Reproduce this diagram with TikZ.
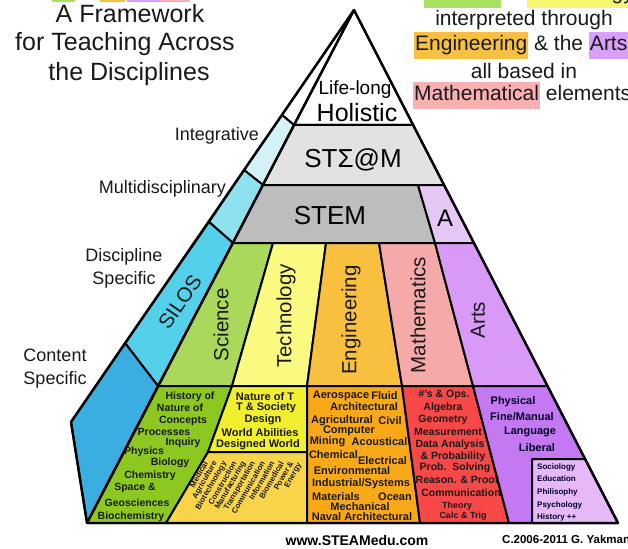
\documentclass[tikz,border=0pt]{standalone}
\usepackage{fontspec}
\setmainfont{Liberation Sans}
\definecolor{intcol}{HTML}{D4F1F7}
\definecolor{multcol}{HTML}{8EE2F0}
\definecolor{siloscol}{HTML}{55D0EA}
\definecolor{contcol}{HTML}{3AAEE0}
\definecolor{steamcol}{HTML}{E2E2E2}
\definecolor{stemcol}{HTML}{BDBDBD}
\definecolor{acol}{HTML}{E6C8F6}
\definecolor{scicol}{HTML}{A9D85A}
\definecolor{techcol}{HTML}{FAFA80}
\definecolor{engcol}{HTML}{F9C040}
\definecolor{mathcol}{HTML}{F5A9A9}
\definecolor{artscol}{HTML}{D99AF7}
\definecolor{greenblk}{HTML}{8CC820}
\definecolor{yellowtop}{HTML}{F2EE30}
\definecolor{yellowlow}{HTML}{F8D548}
\definecolor{orangeblk}{HTML}{F9A818}
\definecolor{redblk}{HTML}{F94848}
\definecolor{purpleblk}{HTML}{C478F2}
\definecolor{socblk}{HTML}{E6B8F8}
\definecolor{hlgreen}{HTML}{A8E060}
\definecolor{hlyellow}{HTML}{F8F870}
\definecolor{hlorange}{HTML}{F8C040}
\definecolor{hlpurple}{HTML}{D8A0F8}
\definecolor{hlpink}{HTML}{F8B0B0}
\definecolor{txtdark}{HTML}{1A1A1A}
\newcommand{\hlbox}[2]{{\setlength{\fboxsep}{1pt}\colorbox{#1}{\strut #2}}}
\begin{document}
\begin{tikzpicture}[x=1pt,y=-1pt,
  blk/.style={draw=black, line width=2pt, line join=round},
  title/.style={inner sep=0pt, font=\fontsize{25}{30}\selectfont, text=txtdark},
  rtxt/.style={inner sep=0pt, font=\fontsize{21}{25}\selectfont, text=txtdark},
  side/.style={inner sep=0pt, font=\fontsize{18}{23}\selectfont, text=txtdark, align=center},
  vlab/.style={inner sep=0pt, font=\fontsize{20.5}{24}\selectfont, rotate=90, text=txtdark},
  gtxt/.style={inner sep=0pt, font=\bfseries\fontsize{10.5}{12}\selectfont, text=txtdark},
  ytxt/.style={inner sep=0pt, font=\bfseries\fontsize{11}{12}\selectfont, text=txtdark},
  rottxt/.style={inner sep=0pt, font=\bfseries\fontsize{7.8}{9}\selectfont, rotate=60, anchor=east, text=txtdark},
  otxt/.style={inner sep=0pt, font=\bfseries\fontsize{11}{12}\selectfont, text=txtdark},
  mtxt/.style={inner sep=0pt, font=\bfseries\fontsize{10.5}{12}\selectfont, text=txtdark},
  ptxt/.style={inner sep=0pt, font=\bfseries\fontsize{11}{12}\selectfont, text=black!85!blue},
  stxt/.style={inner sep=0pt, font=\bfseries\fontsize{8}{9}\selectfont, anchor=west, text=black!85!blue}
]
\useasboundingbox (0,0) rectangle (628,548);
\fill[white] (0,0) rectangle (628,548);

% slivers of a cut-off line at the top left
\fill[hlgreen] (52,-6) rectangle (75,2.5);
\fill[hlorange] (100,-6) rectangle (125,2.5);
\fill[hlpurple] (127,-6) rectangle (160,2.5);
\fill[hlpink] (160,-6) rectangle (190,2.5);

% side face
\filldraw[blk, fill=white] (354,10) -- (282,115) -- (294,125) -- cycle;
\filldraw[blk, fill=intcol] (282,115) -- (294,125) -- (263,185) -- (244,170) -- cycle;
\filldraw[blk, fill=multcol] (244,170) -- (263,185) -- (233,243) -- (209,222) -- cycle;
\filldraw[blk, fill=siloscol] (209,222) -- (233,243) -- (158,386) -- (125,343) -- cycle;
\filldraw[blk, fill=contcol] (125,343) -- (158,386) -- (87,523) -- (71,422) -- cycle;

% front face layers
\filldraw[blk, fill=white] (354,10) -- (294,125) -- (413,125) -- cycle;
\filldraw[blk, fill=steamcol] (294,125) -- (413,125) -- (444,185) -- (263,185) -- cycle;
\filldraw[blk, fill=stemcol] (263,185) -- (418,185) -- (435,243) -- (233,243) -- cycle;
\filldraw[blk, fill=acol] (418,185) -- (444,185) -- (474,243) -- (435,243) -- cycle;

% discipline columns
\filldraw[blk, fill=scicol] (233,243) -- (273,243) -- (232,386) -- (158,386) -- cycle;
\filldraw[blk, fill=techcol] (273,243) -- (326,243) -- (307,386) -- (232,386) -- cycle;
\filldraw[blk, fill=engcol] (326,243) -- (379,243) -- (402,386) -- (307,386) -- cycle;
\filldraw[blk, fill=mathcol] (379,243) -- (435,243) -- (473,386) -- (402,386) -- cycle;
\filldraw[blk, fill=artscol] (435,243) -- (474,243) -- (547.5,386) -- (473,386) -- cycle;

% bottom content blocks
\filldraw[blk, fill=greenblk] (158,386) -- (232,386) -- (208,452) -- (166,523) -- (87,523) -- cycle;
\filldraw[blk, fill=yellowtop] (232,386) -- (307,386) -- (307,452) -- (208,452) -- cycle;
\filldraw[blk, fill=yellowlow] (208,452) -- (307,452) -- (307,523) -- (166,523) -- cycle;
\filldraw[blk, fill=orangeblk] (307,386) -- (402,386) -- (420,523) -- (307,523) -- cycle;
\filldraw[blk, fill=redblk] (402,386) -- (473,386) -- (509,523) -- (420,523) -- cycle;
\filldraw[blk, fill=purpleblk] (473,386) -- (547.5,386) -- (618,523) -- (509,523) -- cycle;
\filldraw[blk, fill=socblk] (532,459) -- (585,459) -- (618,523) -- (532,523) -- cycle;

% outline on top
\draw[blk, line width=2.4pt] (354,10) -- (71,422) -- (87,523) -- (618,523) -- cycle;
\draw[blk, line width=2.4pt] (354,10) -- (87,523);

% title, top left
\node[title] (t1) at (130,14) {A Framework};
\node[title] (t2) at (125,44) {for Teaching Across};
\node[title] (t3) at (129,74) {the Disciplines};

% text, top right
\node[rtxt, anchor=west] (r1) at (424,-5) {\hlbox{hlgreen}{Science} \& \hlbox{hlyellow}{Technology,}};
\node[rtxt] (r2) at (524,20) {interpreted through};
\node[rtxt, anchor=west] (r3) at (414,46) {\hlbox{hlorange}{Engineering} \& the \hlbox{hlpurple}{Arts}};
\node[rtxt] (r4) at (524,71) {all based in};
\node[rtxt, anchor=west] (r5) at (413,96) {\hlbox{hlpink}{Mathematical} elements};

% side labels
\node[side, anchor=east] (integ) at (259,136) {Integrative};
\node[side, anchor=east] (multi) at (226,189) {Multidisciplinary};
\node[side] (disc) at (124,268.5) {Discipline\\Specific};
\node[side] (cont) at (55,368.5) {Content\\Specific};

% pyramid labels
\node[inner sep=0pt, font=\fontsize{19}{22}\selectfont] (life) at (355,90) {Life-long};
\node[inner sep=0pt, font=\fontsize{25}{28}\selectfont] (holi) at (357,113) {Holistic};
\node[inner sep=0pt, font=\fontsize{26}{30}\selectfont] (steam) at (353,160) {STΣ@M};
\node[inner sep=0pt, font=\fontsize{26}{30}\selectfont] (stem) at (330,216) {STEM};
\node[inner sep=0pt, font=\fontsize{24}{28}\selectfont] (aa) at (445,218) {A};
\node[inner sep=0pt, font=\fontsize{20.5}{24}\selectfont, rotate=56, text=txtdark] (silos) at (180,302) {SILOS};
\node[vlab] (sci) at (221,325) {Science};
\node[vlab] (tech) at (286,316) {Technology};
\node[vlab] (eng) at (351,320) {Engineering};
\node[vlab] (math) at (418,315) {Mathematics};
\node[vlab] (arts) at (478,320) {Arts};

% science block
\node[gtxt] (g1) at (190,397) {History of};
\node[gtxt] (g2) at (180,408) {Nature of};
\node[gtxt] (g3) at (183,421) {Concepts};
\node[gtxt] (g4) at (164,432) {Processes};
\node[gtxt] (g5) at (183,443) {Inquiry};
\node[gtxt] (g6) at (144,452) {Physics};
\node[gtxt] (g7) at (170,463) {Biology};
\node[gtxt] (g8) at (150,476) {Chemistry};
\node[gtxt] (g9) at (135,488) {Space \&};
\node[gtxt] (g10) at (137,503) {Geosciences};
\node[gtxt] (g11) at (131,517) {Biochemistry};

% technology block
\node[ytxt] (y1) at (265,397) {Nature of T};
\node[ytxt] (y2) at (266,408) {T \& Society};
\node[ytxt] (y3) at (263,420) {Design};
\node[ytxt] (y4) at (260,433) {World Abilities};
\node[ytxt] (y5) at (258,445) {Designed World};
\node[rottxt] (w1) at (206,462) {Medical};
\node[rottxt] (w2) at (215.5,462) {Agriculture};
\node[rottxt] (w3) at (225,462) {Biotechnology};
\node[rottxt] (w4) at (234.5,462) {Construction};
\node[rottxt] (w5) at (244,462) {Manufacturing};
\node[rottxt] (w6) at (253.5,462) {Transportation};
\node[rottxt] (w7) at (263,462) {Communication};
\node[rottxt] (w8) at (272.5,462) {Information};
\node[rottxt] (w9) at (282,462) {Biomedical};
\node[rottxt] (w10) at (291.5,462) {Power \&};
\node[rottxt] (w11) at (300,464) {Energy};

% engineering block
\node[otxt] (o1) at (341,396) {Aerospace};
\node[otxt] (o2) at (384.5,396) {Fluid};
\node[otxt] (o3) at (364,407) {Architectural};
\node[otxt] (o4) at (342,421) {Agricultural};
\node[otxt] (o5) at (390,421) {Civil};
\node[otxt] (o6) at (349,431) {Computer};
\node[otxt] (o7) at (327.5,442) {Mining};
\node[otxt] (o8) at (379.5,442) {Acoustical};
\node[otxt] (o9) at (333.5,455) {Chemical};
\node[otxt] (o10) at (382.5,461) {Electrical};
\node[otxt] (o11) at (352,471) {Environmental};
\node[otxt] (o12) at (361,484) {Industrial/Systems};
\node[otxt] (o13) at (336,497) {Materials};
\node[otxt] (o14) at (395,497) {Ocean};
\node[otxt] (o15) at (360,507) {Mechanical};
\node[otxt] (o16) at (362,517) {Naval Architectural};

% mathematics block
\node[mtxt] (m1) at (444,395) {\#'s \& Ops.};
\node[mtxt] (m2) at (443,408) {Algebra};
\node[mtxt] (m3) at (443,420) {Geometry};
\node[mtxt] (m4) at (448,432) {Measurement};
\node[mtxt] (m5) at (450,445) {Data Analysis};
\node[mtxt] (m6) at (453,457) {\& Probability};
\node[mtxt] (m7) at (455,468) {Prob.\ \ Solving};
\node[mtxt] (m8) at (457,480) {Reason. \& Proof};
\node[mtxt] (m9) at (461,493) {Communication};
\node[mtxt, font=\bfseries\fontsize{9}{10}\selectfont] (m10) at (457,506) {Theory};
\node[mtxt, font=\bfseries\fontsize{9}{10}\selectfont] (m11) at (463,516) {Calc \& Trig};

% arts block
\node[ptxt] (p1) at (513,402) {Physical};
\node[ptxt] (p2) at (522,417) {Fine/Manual};
\node[ptxt] (p3) at (530,432) {Language};
\node[ptxt] (p4) at (537,448) {Liberal};
\node[stxt] (s1) at (537,467) {Sociology};
\node[stxt] (s2) at (537,479) {Education};
\node[stxt] (s3) at (537,492) {Philisophy};
\node[stxt] (s4) at (537,505) {Psychology};
\node[stxt] (s5) at (537,517) {History ++};

% footer
\node[inner sep=0pt, font=\bfseries\fontsize{14}{16}\selectfont] (web) at (357,540) {www.STEAMedu.com};
\node[inner sep=0pt, anchor=west, font=\bfseries\fontsize{11.5}{13}\selectfont] (copy) at (502,539) {C.2006-2011 G. Yakman};
\end{tikzpicture}
\end{document}
